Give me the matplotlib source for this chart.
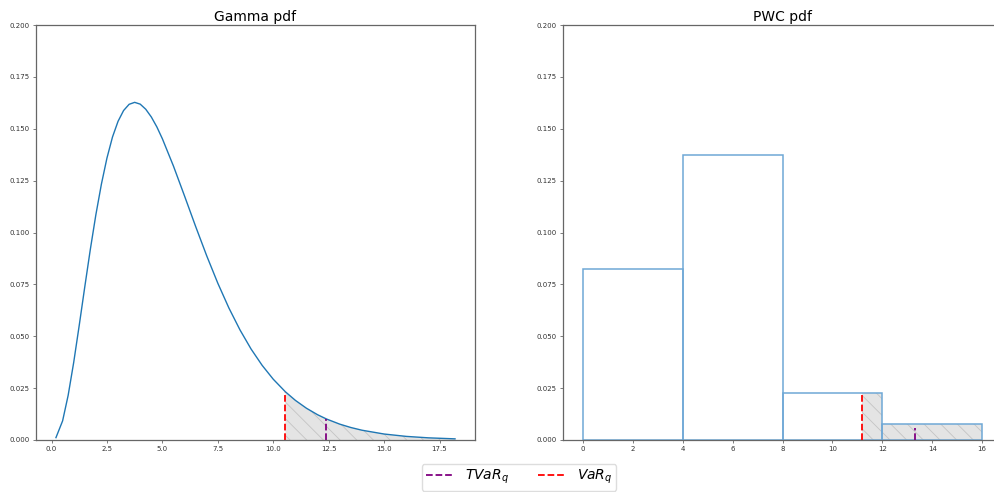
import matplotlib
matplotlib.use("Agg")
import matplotlib.pyplot as plt
from matplotlib.lines import Line2D

# gamma pdf
gamma_x = [0.2, 0.5, 0.75, 1.0, 1.25, 1.5, 1.75, 2.0, 2.25, 2.5, 2.75, 3.0, 3.25,
           3.5, 3.75, 4.0, 4.25, 4.5, 4.75, 5.0, 5.5, 6.0, 6.5, 7.0, 7.5, 8.0,
           8.5, 9.0, 9.5, 10.0, 10.55, 11.0, 11.5, 12.0, 12.4, 13.0, 13.5, 14.0,
           15.0, 16.0, 17.0, 18.2]
gamma_y = [0.00114, 0.00922, 0.02151, 0.03737, 0.05527, 0.07380, 0.09184,
           0.10855, 0.12333, 0.13587, 0.14602, 0.15357, 0.15878, 0.16178,
           0.16272, 0.16186, 0.15940, 0.15569, 0.15090, 0.14517, 0.13200,
           0.11758, 0.10291, 0.08875, 0.07556, 0.06362, 0.05306, 0.04385,
           0.03597, 0.02930, 0.02321, 0.01909, 0.01529, 0.01218, 0.01013,
           0.00764, 0.00602, 0.00472, 0.00288, 0.00174, 0.00104, 0.00055]
gamma_var = 10.55
gamma_tvar = 12.4
gamma_tvar_h = 0.0101

# piecewise constant pdf
pwc_edges = [0, 4, 8, 12, 16]
pwc_dens = [0.0825, 0.1375, 0.0225, 0.0075]
pwc_var = 11.2
pwc_tvar = 13.3
pwc_tvar_h = 0.0059

plt.rcParams["hatch.linewidth"] = 0.6

W, H = 994, 492
fig = plt.figure(figsize=(W / 100, H / 100), dpi=100)

ax1 = fig.add_axes([36 / W, 1 - 440 / H, 439 / W, 415 / H])
ax2 = fig.add_axes([563 / W, 1 - 440 / H, 439 / W, 415 / H])

spine_col = "#666666"
for ax in (ax1, ax2):
    ax.set_ylim(0, 0.2)
    ax.set_yticks([0, 0.025, 0.05, 0.075, 0.1, 0.125, 0.15, 0.175, 0.2])
    ax.tick_params(labelsize=5, length=2.5, width=0.6, color=spine_col,
                   labelcolor="#333333", pad=2)
    for sp in ax.spines.values():
        sp.set_color(spine_col)
        sp.set_linewidth(0.9)

# left: gamma
ax1.plot(gamma_x, gamma_y, color="#1f77b4", lw=1)
tail_x = [x for x in gamma_x if x >= gamma_var]
tail_y = [y for x, y in zip(gamma_x, gamma_y) if x >= gamma_var]
ax1.fill_between(tail_x, tail_y, 0, facecolor="#e4e4e4", edgecolor="#c4c4c4",
                 hatch="\\\\", linewidth=0)
var_h = gamma_y[gamma_x.index(gamma_var)]
ax1.vlines(gamma_var, 0, var_h, colors="red", linestyles="--", lw=1.3)
ax1.vlines(gamma_tvar, 0, gamma_tvar_h, colors="purple", linestyles="--", lw=1.3)
ax1.set_xlim(-0.7, 19.1)
ax1.set_xticks([0, 2.5, 5, 7.5, 10, 12.5, 15, 17.5])
ax1.set_title("Gamma pdf", fontsize=10, pad=3)

# right: piecewise constant
lefts = pwc_edges[:-1]
widths = [b - a for a, b in zip(pwc_edges[:-1], pwc_edges[1:])]
sx, sh, sw = [], [], []
for a, b, d in zip(pwc_edges[:-1], pwc_edges[1:], pwc_dens):
    if b > pwc_var:
        lo = max(a, pwc_var)
        sx.append(lo)
        sw.append(b - lo)
        sh.append(d)
ax2.bar(sx, sh, width=sw, align="edge", facecolor="#e4e4e4",
        edgecolor="#c4c4c4", hatch="\\\\", lw=0, zorder=0.5)
ax2.bar(lefts, pwc_dens, width=widths, align="edge", fill=False,
        edgecolor="#6fa8d6", lw=1.1, zorder=2)
var_d = pwc_dens[[i for i in range(len(pwc_dens))
                  if pwc_edges[i] <= pwc_var < pwc_edges[i + 1]][0]]
ax2.vlines(pwc_var, 0, var_d, colors="red", linestyles="--", lw=1.3, zorder=3)
ax2.vlines(pwc_tvar, 0, pwc_tvar_h, colors="purple", linestyles="--", lw=1.3,
           zorder=3)
ax2.set_xlim(-0.8, 16.8)
ax2.set_xticks([0, 2, 4, 6, 8, 10, 12, 14, 16])
ax2.set_title("PWC pdf", fontsize=10, pad=3)

handles = [Line2D([], [], color="purple", ls="--", lw=1.3),
           Line2D([], [], color="red", ls="--", lw=1.3)]
fig.legend(handles, [r"$TVaR_q$", r"$VaR_q$"], ncol=2, loc="upper center",
           bbox_to_anchor=(519 / W, 1 - 464 / H), fontsize=10,
           handlelength=2.0, handletextpad=0.8, columnspacing=2.1,
           borderpad=0.3, borderaxespad=0, framealpha=1, edgecolor="#dddddd")

fig.savefig("out.png", dpi=100)
